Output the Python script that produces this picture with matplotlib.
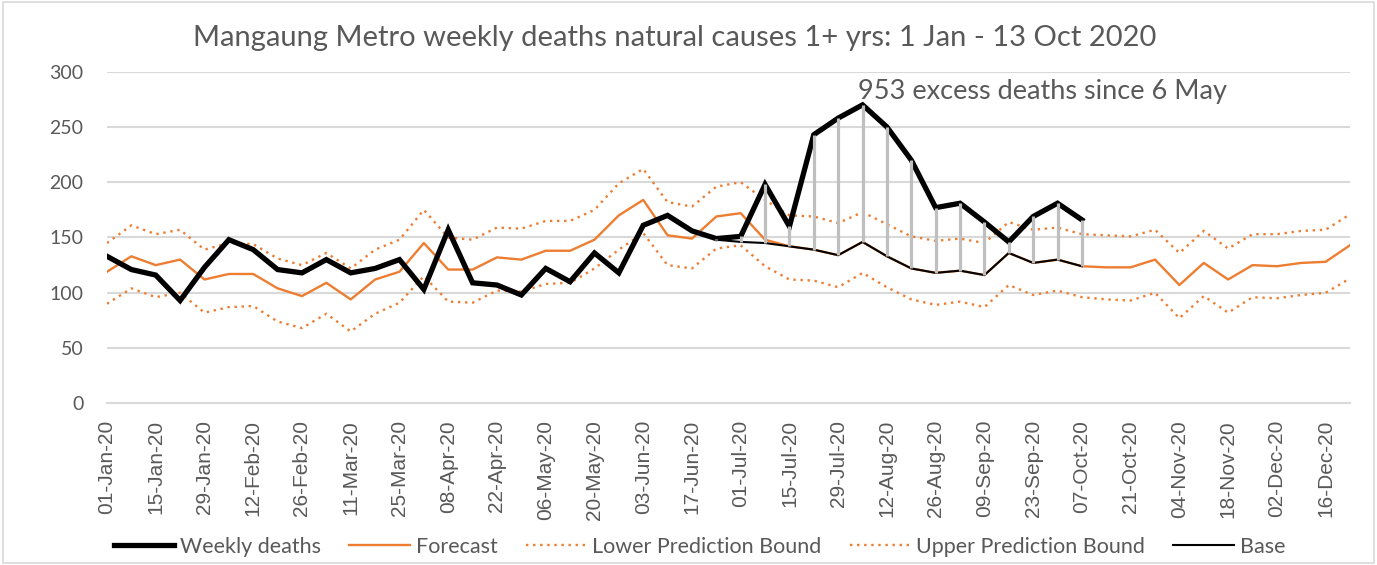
import numpy as np
import pandas as pd
import matplotlib
matplotlib.use("Agg")
import matplotlib.pyplot as plt
from matplotlib.patches import Rectangle

# week starting dates, 01-Jan-20 .. 23-Dec-20
weeks = pd.date_range("2020-01-01", periods=52, freq="7D")

weekly_deaths = [133, 121, 116, 93, 123, 148, 139, 121, 118, 130,
                 118, 122, 130, 103, 157, 109, 107, 98, 122, 110,
                 136, 118, 161, 170, 156, 149, 151, 198, 160, 243,
                 258, 270, 250, 220, 177, 181, 164, 146, 169, 181,
                 166]

forecast = [119, 133, 125, 130, 112, 117, 117, 104, 97, 109,
            94, 112, 119, 145, 121, 121, 132, 130, 138, 138,
            148, 170, 184, 152, 149, 169, 172, 148, 142, 139,
            134, 146, 133, 122, 118, 120, 116, 136, 127, 130,
            124, 123, 123, 130, 107, 127, 112, 125, 124, 127,
            128, 143]

lower_bound = [90, 104, 96, 100, 82, 87, 88, 74, 68, 81,
               65, 81, 91, 115, 92, 91, 102, 101, 108, 109,
               122, 139, 154, 125, 122, 140, 143, 124, 112, 111,
               105, 118, 105, 94, 89, 92, 87, 107, 98, 102,
               96, 94, 93, 100, 77, 97, 82, 96, 95, 98,
               100, 113]

upper_bound = [145, 161, 153, 157, 139, 145, 144, 131, 125, 136,
               122, 139, 148, 175, 150, 148, 159, 158, 165, 165,
               175, 199, 212, 182, 178, 196, 200, 184, 170, 169,
               163, 173, 162, 151, 147, 149, 145, 164, 157, 159,
               153, 152, 151, 157, 136, 156, 140, 153, 153, 156,
               157, 171]

# base line drawn under the excess period (weeks 25..40)
base_start = 25
base = [148, 146, 145, 142, 139, 134, 146, 133, 122, 118,
        120, 116, 136, 127, 130, 124]

ORANGE = "#ED7D31"
GREY_TXT = "#595959"

x_all = np.arange(len(weeks))
x_deaths = np.arange(len(weekly_deaths))
x_base = np.arange(base_start, base_start + len(base))

fig = plt.figure(figsize=(13.77, 5.65), dpi=100)
ax = fig.add_axes([0.0777, 0.2862, 0.9027, 0.5869])

ax.plot(x_deaths, weekly_deaths, color="black", lw=3.8, label="Weekly deaths",
        solid_joinstyle="miter", zorder=4)
ax.plot(x_all, forecast, color=ORANGE, lw=1.7, label="Forecast", zorder=3)
ax.plot(x_all, lower_bound, color=ORANGE, lw=1.7, ls=(0, (1, 2)),
        label="Lower Prediction Bound", zorder=3)
ax.plot(x_all, upper_bound, color=ORANGE, lw=1.7, ls=(0, (1, 2)),
        label="Upper Prediction Bound", zorder=3)
ax.plot(x_base, base, color="black", lw=1.5, label="Base", zorder=3.5)

# high-low lines between deaths and base
deaths_sub = [weekly_deaths[i] for i in x_base]
ax.vlines(x_base, base, deaths_sub, color="#BFBFBF", lw=2.3, zorder=5)

ax.text(30.8, 282, "953 excess deaths since 6 May", fontsize=19.5,
        family="Lato", color=GREY_TXT, va="center", ha="left")

ax.set_xlim(0, len(weeks) - 1)
ax.set_ylim(0, 300)
ax.set_yticks(range(0, 301, 50))
ax.set_xticks(x_all[::2])
ax.set_xticklabels([d.strftime("%d-%b-%y") for d in weeks[::2]],
                   rotation=90, fontsize=15, family="Liberation Sans",
                   color=GREY_TXT)
ax.tick_params(axis="y", labelsize=14, labelcolor=GREY_TXT, length=0, pad=17)
ax.tick_params(axis="x", length=0, pad=12)
for lab in ax.get_yticklabels():
    lab.set_family("Lato")

ax.grid(axis="y", color="#D9D9D9", lw=1.5)
ax.set_axisbelow(True)
for s in ["top", "right", "left"]:
    ax.spines[s].set_visible(False)
ax.spines["bottom"].set_color("#D9D9D9")
ax.spines["bottom"].set_linewidth(1.5)

fig.text(0.49, 0.933, "Mangaung Metro weekly deaths natural causes 1+ yrs: 1 Jan - 13 Oct 2020",
         fontsize=21, family="Lato", color=GREY_TXT, ha="center", va="center")

leg = fig.legend(loc="center", bbox_to_anchor=(0.508, 0.032), ncol=5, frameon=False,
                 handlelength=2.8, columnspacing=1.3, handletextpad=0.3,
                 prop={"family": "Lato", "size": 15.5})
for t in leg.get_texts():
    t.set_color(GREY_TXT)

fig.patches.append(Rectangle((0.002, 0.003), 0.996, 0.994, transform=fig.transFigure,
                             fill=False, edgecolor="#D9D9D9", lw=1.2))

fig.savefig("out.png", dpi=100)
